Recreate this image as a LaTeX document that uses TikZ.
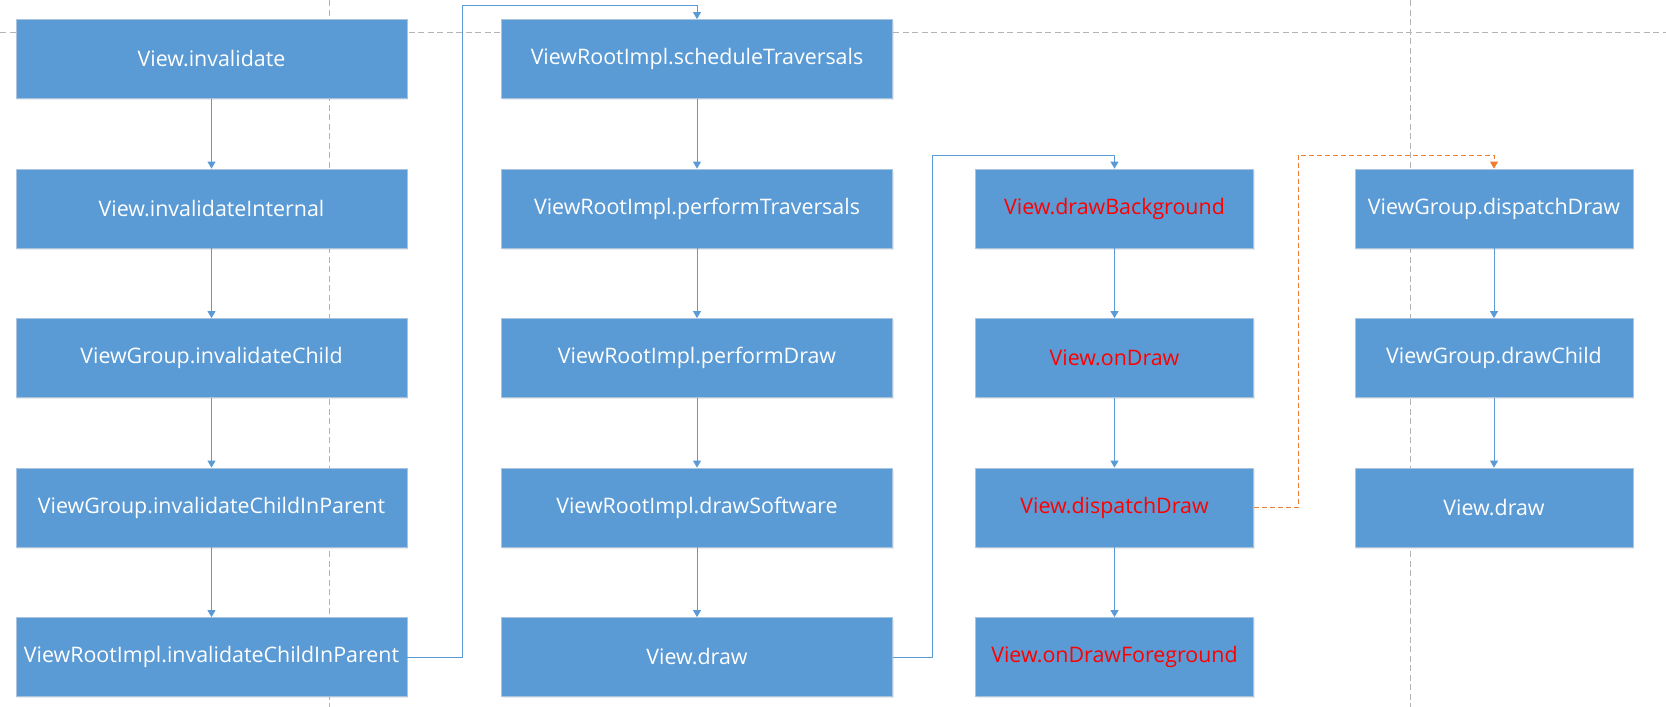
\documentclass[tikz,border=0pt]{standalone}
\usepackage{fontspec}
\setmainfont{Open Sans}
\usetikzlibrary{arrows.meta,shadows}
\definecolor{boxblue}{HTML}{5B9BD5}
\definecolor{boxedge}{HTML}{A9C4DE}
\definecolor{guide}{HTML}{B4B4B4}
\definecolor{orangeline}{HTML}{ED7D31}
\definecolor{redtext}{HTML}{FF0000}
\begin{document}
\begin{tikzpicture}[x=1pt,y=-1pt,
  fbox/.style={rectangle, fill=boxblue, draw=boxedge, line width=0.8pt,
    minimum height=79pt, inner sep=0pt, text=white,
    font=\fontsize{21.4}{24}\selectfont,
    drop shadow={shadow xshift=1.2pt, shadow yshift=-1.5pt, fill=black, opacity=0.08}},
  wide/.style={fbox, minimum width=391pt},
  narrow/.style={fbox, minimum width=278pt},
  hot/.style={text=redtext},
  link/.style={draw=boxblue, line width=0.9pt, -{Triangle[width=8pt,length=7pt]}},
  olink/.style={draw=orangeline, line width=0.9pt, dash pattern=on 5pt off 3pt, -{Triangle[width=8pt,length=7pt]}},
  guideline/.style={draw=guide, line width=0.8pt, dash pattern=on 6pt off 3.5pt}
]
\useasboundingbox (0,0) rectangle (1666,707);
% guide lines
\draw[guideline] (0,32) -- (1666,32);
\draw[guideline] (329,0) -- (329,707);
\draw[guideline] (1410,0) -- (1410,707);
% column 1
\node[wide] (a1) at (211.5,59) {View.invalidate};
\node[wide] (a2) at (211.5,208.5) {View.invalidateInternal};
\node[wide] (a3) at (211.5,358) {ViewGroup.invalidateChild};
\node[wide] (a4) at (211.5,507.5) {ViewGroup.invalidateChildInParent};
\node[wide] (a5) at (211.5,657) {ViewRootImpl.invalidateChildInParent};
% column 2
\node[wide] (b1) at (697,59) {ViewRootImpl.scheduleTraversals};
\node[wide] (b2) at (697,208.5) {ViewRootImpl.performTraversals};
\node[wide] (b3) at (697,358) {ViewRootImpl.performDraw};
\node[wide] (b4) at (697,507.5) {ViewRootImpl.drawSoftware};
\node[wide] (b5) at (697,657) {View.draw};
% column 3
\node[narrow,hot] (c1) at (1114.5,208.5) {View.drawBackground};
\node[narrow,hot] (c2) at (1114.5,358) {View.onDraw};
\node[narrow,hot] (c3) at (1114.5,507.5) {View.dispatchDraw};
\node[narrow,hot] (c4) at (1114.5,657) {View.onDrawForeground};
% column 4
\node[narrow] (d1) at (1494,208.5) {ViewGroup.dispatchDraw};
\node[narrow] (d2) at (1494,358) {ViewGroup.drawChild};
\node[narrow] (d3) at (1494,507.5) {View.draw};
% vertical connectors
\draw[link] (a1) -- (a2);
\draw[link] (a2) -- (a3);
\draw[link] (a3) -- (a4);
\draw[link] (a4) -- (a5);
\draw[link] (b1) -- (b2);
\draw[link] (b2) -- (b3);
\draw[link] (b3) -- (b4);
\draw[link] (b4) -- (b5);
\draw[link] (c1) -- (c2);
\draw[link] (c2) -- (c3);
\draw[link] (c3) -- (c4);
\draw[link] (d1) -- (d2);
\draw[link] (d2) -- (d3);
% jump connectors
\coordinate (k1) at (462,5.5);
\coordinate (k2) at (932.5,155);
\coordinate (k3) at (1298,155);
\draw[link] (a5.east) -| (k1) -| (b1.north);
\draw[link] (b5.east) -| (k2) -| (c1.north);
\draw[olink] (c3.east) -| (k3) -| (d1.north);
\end{tikzpicture}
\end{document}
